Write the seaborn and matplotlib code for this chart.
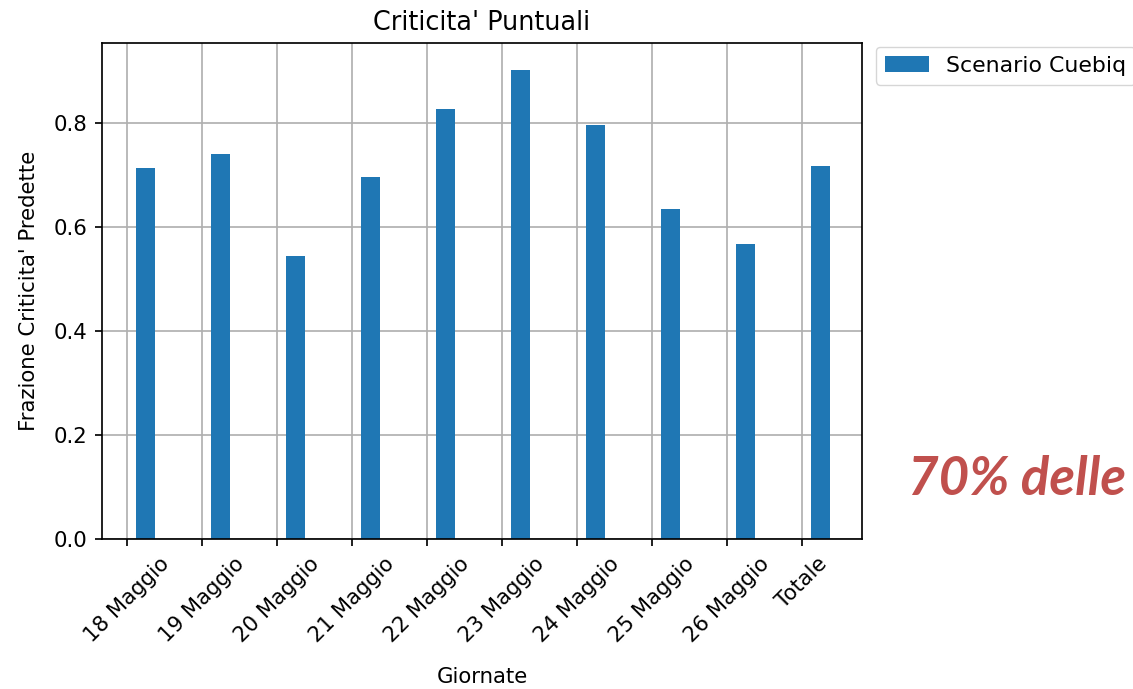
import numpy as np
import pandas as pd
import matplotlib
matplotlib.use("Agg")
import matplotlib.pyplot as plt
import seaborn as sns

# Fraction of point-critical events predicted, per day
giornate = ["18 Maggio", "19 Maggio", "20 Maggio", "21 Maggio", "22 Maggio",
            "23 Maggio", "24 Maggio", "25 Maggio", "26 Maggio", "Totale"]
frazione = [0.714, 0.740, 0.544, 0.697, 0.827, 0.902, 0.797, 0.635, 0.567, 0.718]
serie = "Scenario Cuebiq"
nota = "70% delle"

S = 1.53  # scale from the default notebook size
plt.rcParams.update({
    "font.family": "DejaVu Sans",
    "font.size": 10 * S,
    "axes.linewidth": 0.8 * S,
    "grid.linewidth": 0.8 * S,
    "grid.color": "#b0b0b0",
    "xtick.major.size": 3.5 * S,
    "ytick.major.size": 3.5 * S,
    "xtick.major.width": 0.8 * S,
    "ytick.major.width": 0.8 * S,
    "xtick.major.pad": 3.5 * S,
    "ytick.major.pad": 3.5 * S,
    "axes.titlepad": 6 * S,
    "axes.labelpad": 4 * S,
    "legend.fontsize": 15.8,
})

W, H = 1133, 689
fig = plt.figure(figsize=(W / 100, H / 100), dpi=100)
ax = fig.add_axes([102 / W, (H - 539) / H, 760 / W, 496 / H])

pos = np.arange(len(giornate))
df = pd.DataFrame({"pos": pos + 0.25, "frazione": frazione, "serie": serie})
sns.barplot(data=df, x="pos", y="frazione", hue="serie", native_scale=True,
            width=0.25, palette=["#1f77b4"], linewidth=0, saturation=1,
            ax=ax, zorder=2)

ax.set_axisbelow(True)
ax.grid(True)
ax.set_xlim(-0.333, 9.8)
ax.set_ylim(0, 0.954)
ax.set_yticks([0.0, 0.2, 0.4, 0.6, 0.8])
ax.set_xticks(pos)
ax.set_xticklabels(giornate, rotation=45)
ax.set_xlabel("Giornate", labelpad=15)
ax.set_ylabel("Frazione Criticita' Predette", labelpad=10)
ax.set_title("Criticita' Puntuali", fontsize=12 * S)

ax.legend(loc="upper left", bbox_to_anchor=(876 / W, (H - 47) / H),
          bbox_transform=fig.transFigure, borderaxespad=0,
          handlelength=2.0, frameon=True, fancybox=True)

fig.text(908 / W, (H - 495) / H, nota, color="#c0504d", fontsize=38,
         fontweight="bold", fontstyle="italic", family=["Lato", "DejaVu Sans"],
         ha="left", va="baseline")

fig.savefig("out.png", dpi=100)
